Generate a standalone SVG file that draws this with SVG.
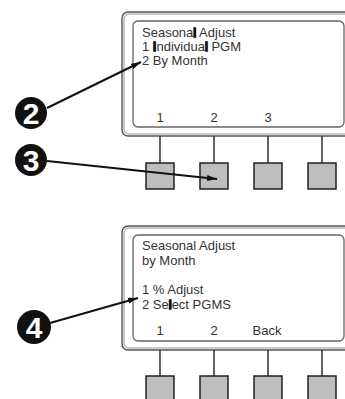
<svg xmlns="http://www.w3.org/2000/svg" width="345" height="399" viewBox="0 0 345 399">
<style>
.outer{fill:none;stroke:#555;stroke-width:1.4}
.outer2{fill:none;stroke:#bbb;stroke-width:1.6}
.inner{fill:#fff;stroke:#666;stroke-width:1.3}
.txt{font-family:"Liberation Sans",Arial,sans-serif;font-size:13px;fill:#333}
.lbl{font-family:"Liberation Sans",Arial,sans-serif;font-size:13px;fill:#333;text-anchor:middle}
.cur{stroke:#111;stroke-width:1.6}
.btn{fill:#bdbdbd;stroke:#222;stroke-width:1.5}
.stem{stroke:#222;stroke-width:1.4}
.badge{fill:#111}
.bnum{font-family:"Liberation Sans",Arial,sans-serif;font-weight:bold;font-size:30px;fill:#fff;stroke:#111;stroke-width:2;paint-order:stroke;text-anchor:middle}
.arr{stroke:#111;stroke-width:2;fill:none}
</style>
<defs>
<marker id="ah" viewBox="0 0 10 6" refX="10" refY="3" markerWidth="5" markerHeight="3" orient="auto" markerUnits="strokeWidth">
<path d="M0,0 L10,3 L0,6 Z" fill="#111"/>
</marker>
</defs>
<rect width="345" height="399" fill="#fff"/>

<g id="panel1">
<rect class="outer" x="122" y="12" width="240" height="124" rx="6"/>
<rect class="outer2" x="124" y="14" width="236" height="120" rx="5"/>
<rect class="inner" x="133" y="21" width="211" height="106" rx="5"/>
<text class="txt" x="142" y="37">Seasona<tspan class="cur">l</tspan> Adjust</text>
<text class="txt" x="142" y="51">1  <tspan class="cur">I</tspan>ndividua<tspan class="cur">l</tspan> PGM</text>
<text class="txt" x="142" y="65">2  By Month</text>
<text class="lbl" x="160" y="122">1</text>
<text class="lbl" x="214" y="122">2</text>
<text class="lbl" x="268" y="122">3</text>
</g>
<g id="buttons1">
<line class="stem" x1="160" y1="136" x2="160" y2="163"/>
<line class="stem" x1="214" y1="136" x2="214" y2="163"/>
<line class="stem" x1="268" y1="136" x2="268" y2="163"/>
<line class="stem" x1="322" y1="136" x2="322" y2="163"/>
<rect class="btn" x="146" y="163" width="28" height="26"/>
<rect class="btn" x="200" y="163" width="28" height="26"/>
<rect class="btn" x="254" y="163" width="28" height="26"/>
<rect class="btn" x="308" y="163" width="28" height="26"/>
</g>

<g id="panel2">
<rect class="outer" x="122" y="226" width="240" height="124" rx="6"/>
<rect class="outer2" x="124" y="228" width="236" height="120" rx="5"/>
<rect class="inner" x="133" y="235" width="211" height="106" rx="5"/>
<text class="txt" x="142" y="250">Seasonal Adjust</text>
<text class="txt" x="142" y="265">by Month</text>
<text class="txt" x="142" y="294">1 % Adjust</text>
<text class="txt" x="142" y="309">2 Se<tspan class="cur">l</tspan>ect PGMS</text>
<text class="lbl" x="160" y="335">1</text>
<text class="lbl" x="214" y="335">2</text>
<text class="lbl" x="267" y="335">Back</text>
</g>
<g id="buttons2">
<line class="stem" x1="160" y1="350" x2="160" y2="376"/>
<line class="stem" x1="214" y1="350" x2="214" y2="376"/>
<line class="stem" x1="268" y1="350" x2="268" y2="376"/>
<line class="stem" x1="322" y1="350" x2="322" y2="376"/>
<rect class="btn" x="146" y="376" width="28" height="30"/>
<rect class="btn" x="200" y="376" width="28" height="30"/>
<rect class="btn" x="254" y="376" width="28" height="30"/>
<rect class="btn" x="308" y="376" width="28" height="30"/>
</g>

<g id="badge2">
<circle class="badge" cx="31" cy="113" r="16"/>
<text class="bnum" x="31" y="124">2</text>
</g>
<g id="badge3">
<circle class="badge" cx="31" cy="160" r="16"/>
<text class="bnum" x="31" y="171">3</text>
</g>
<g id="badge4">
<circle class="badge" cx="34" cy="327" r="17"/>
<text class="bnum" x="34" y="338">4</text>
</g>

<g id="connectors">
<line class="arr" x1="47" y1="108" x2="141" y2="62" marker-end="url(#ah)"/>
<line class="arr" x1="47" y1="161" x2="217" y2="179" marker-end="url(#ah)"/>
<line class="arr" x1="50" y1="323" x2="138" y2="298" marker-end="url(#ah)"/>
</g>
</svg>
